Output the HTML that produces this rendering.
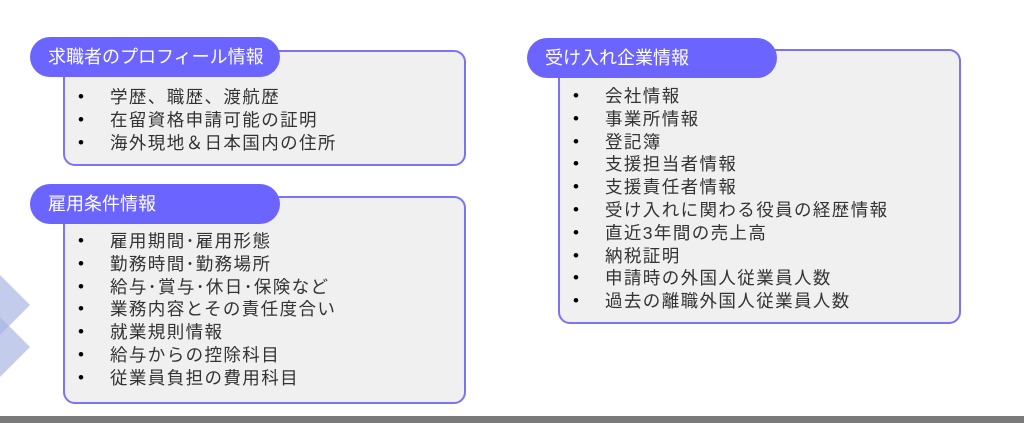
<!DOCTYPE html>
<html><head><meta charset="utf-8"><style>
body{margin:0;width:1024px;height:423px;background:#fff;position:relative;overflow:hidden;font-family:"Liberation Sans","Noto Sans CJK JP",sans-serif;}
.box{position:absolute;background:#f0f0f0;border:2px solid #7a73f2;border-radius:12px;box-sizing:border-box;}
.tab{position:absolute;background:#6c64ff;color:#fff;border-radius:20px;font-size:18px;box-sizing:border-box;padding-left:18px;line-height:40px;height:40px;width:250px;white-space:nowrap;}
ul{list-style:none;margin:0;padding:0;position:absolute;font-size:17.5px;color:#333;letter-spacing:1.4px;}
li{position:relative;padding-left:30px;height:22.8px;line-height:22.8px;white-space:nowrap;}
li:before{content:"•";position:absolute;left:-2px;color:#000;font-size:17px;}
</style></head><body>
<svg width="40" height="423" style="position:absolute;left:0;top:0">
<polygon points="0,275 30,305 0,335" fill="#a9b6e2" opacity="0.7"/>
<polygon points="0,317 30,347 0,377" fill="#a9b6e2" opacity="0.7"/>
</svg>
<div class="box" style="left:63px;top:50px;width:403px;height:116px"></div>
<div class="tab" style="left:30px;top:37px">求職者のプロフィール情報</div>
<ul style="left:80px;top:86px"><li>学歴、職歴、渡航歴</li><li>在留資格申請可能の証明</li><li>海外現地＆日本国内の住所</li></ul>
<div class="box" style="left:63px;top:196px;width:403px;height:208px"></div>
<div class="tab" style="left:30px;top:184px">雇用条件情報</div>
<ul style="left:80px;top:230px"><li>雇用期間･雇用形態</li><li>勤務時間･勤務場所</li><li>給与･賞与･休日･保険など</li><li>業務内容とその責任度合い</li><li>就業規則情報</li><li>給与からの控除科目</li><li>従業員負担の費用科目</li></ul>
<div class="box" style="left:558px;top:49px;width:403px;height:275px"></div>
<div class="tab" style="left:527px;top:38px">受け入れ企業情報</div>
<ul style="left:575px;top:85px"><li>会社情報</li><li>事業所情報</li><li>登記簿</li><li>支援担当者情報</li><li>支援責任者情報</li><li>受け入れに関わる役員の経歴情報</li><li>直近3年間の売上高</li><li>納税証明</li><li>申請時の外国人従業員人数</li><li>過去の離職外国人従業員人数</li></ul>
<div style="position:absolute;left:0;top:416px;width:1024px;height:7px;background:#7a7a7a"></div>
</body></html>
